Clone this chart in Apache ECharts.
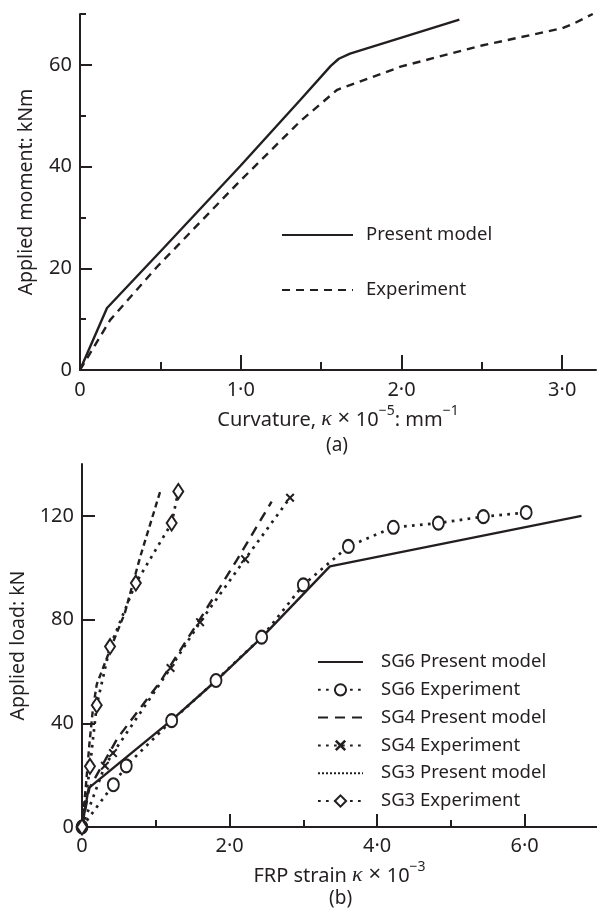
<!DOCTYPE html>
<html><head><meta charset="utf-8">
<script src="https://cdn.jsdelivr.net/npm/echarts@6/dist/echarts.min.js"></script>
<style>html,body{margin:0;padding:0;background:#fff}#c{width:597px;height:913px}</style>
</head><body><div id="c"></div>
<script>
// ---- tick values ----
const topXTicks = [0, 1, 2, 3];
const topXMinor = [0.5, 1.5, 2.5];
const topYTicks = [0, 20, 40, 60];
const topYMinor = [10, 30, 50, 70];
const botXTicks = [0, 2, 4, 6];
const botXMinor = [1, 3, 5];
const botYTicks = [0, 40, 80, 120];

// ---- (a) moment–curvature ----
const momentModel = [[0,0],[0.168,12.2],[0.5,23.3],[1.0,40.2],[1.37,53.1],[1.56,59.8],[1.61,61.2],[1.68,62.2],[2.36,68.9]];
const momentExp = [[0,0],[0.187,9.8],[0.48,20.3],[0.99,37.0],[1.37,48.9],[1.6,55.1],[2.0,59.7],[2.5,63.8],[3.0,67.2],[3.07,68.1],[3.19,70.0]];

// ---- (b) load–strain ----
const sg6Model = [[0,0],[0.09,15],[1.215,41.2],[1.82,56.5],[2.44,73.2],[3.36,100.5],[6.77,120]];
const sg6Exp = [[0,0],[0.425,16.3],[0.6,23.6],[1.215,41.0],[1.816,56.5],[2.435,73.2],[3.0,93.4],[3.61,108.2],[4.22,115.6],[4.83,117.2],[5.44,119.7],[6.02,121.3]];
const sg4Model = [[0,0],[0.1,15],[0.48,34.2],[1.06,56],[1.64,82],[2.1,103],[2.57,125.5]];
const sg4Exp = [[0,0],[0.31,23.6],[0.42,28.5],[1.2,61.3],[1.6,79.0],[2.21,103.3],[2.82,127.0]];
const sg3Model = [[0,0],[0.05,15],[0.1,32],[0.15,46],[0.2,55],[0.38,68.4],[0.58,82.5],[0.79,104.3],[1.06,129.4]];
const sg3Exp = [[0,0],[0.108,23.4],[0.2,47.0],[0.38,69.6],[0.73,94.1],[1.215,117.2],[1.305,129.4]];

const INK = '#231f20';
const FONT = 'Noto Sans';
const LW = 2.4;
const fmtX = v => v === 0 ? '0' : v.toFixed(1).replace('.', '\u00b7');
const fmtY = v => String(v);
const XMARK = 'path://M0,1.6L1.6,0L5,3.4L8.4,0L10,1.6L6.6,5L10,8.4L8.4,10L5,6.6L1.6,10L0,8.4L3.4,5Z';

const rich = {
  n: {fontSize: 20, fontFamily: FONT, color: INK, lineHeight: 26, verticalAlign: 'bottom'},
  x: {fontSize: 22, fontFamily: FONT, color: INK, lineHeight: 26, verticalAlign: 'bottom'},
  k: {fontSize: 22, fontFamily: 'Liberation Serif', fontStyle: 'italic', color: INK, lineHeight: 26, verticalAlign: 'bottom'},
  s: {fontSize: 14, fontFamily: FONT, color: INK, verticalAlign: 'top', lineHeight: 15}
};

function majorX(grid, max, ticks, name, gap, labMargin, tickLen) {
  return {type:'value', gridIndex:grid, position:'bottom', min:0, max:max,
    axisLine:{show:true, lineStyle:{color:INK, width:2}},
    axisTick:{show:true, inside:true, length:tickLen, customValues:ticks, lineStyle:{color:INK, width:2}},
    axisLabel:{show:true, customValues:ticks, formatter:fmtX, margin:labMargin, color:INK, fontSize:20, fontFamily:FONT},
    splitLine:{show:false},
    name:name, nameLocation:'middle', nameGap:gap, nameTextStyle:{rich:rich}};
}
function minorX(grid, max, ticks, len) {
  return {type:'value', gridIndex:grid, position:'bottom', min:0, max:max,
    axisLine:{show:false}, axisLabel:{show:false}, splitLine:{show:false},
    axisTick:{show:true, inside:true, length:len, customValues:ticks, lineStyle:{color:INK, width:2}}};
}
function majorY(grid, max, ticks, name, gap, tickLen) {
  return {type:'value', gridIndex:grid, position:'left', min:0, max:max,
    axisLine:{show:true, lineStyle:{color:INK, width:2}},
    axisTick:{show:true, inside:true, length:tickLen, customValues:ticks, lineStyle:{color:INK, width:2}},
    axisLabel:{show:true, customValues:ticks, formatter:fmtY, margin:8, color:INK, fontSize:20, fontFamily:FONT},
    splitLine:{show:false},
    name:name, nameLocation:'middle', nameGap:gap, nameTextStyle:{color:INK, fontSize:19.5, fontFamily:FONT}};
}
function minorY(grid, max, ticks, len) {
  return {type:'value', gridIndex:grid, position:'left', min:0, max:max,
    axisLine:{show:false}, axisLabel:{show:false}, splitLine:{show:false},
    axisTick:{show:true, inside:true, length:len, customValues:ticks, lineStyle:{color:INK, width:2}}};
}

function lineSeries(name, data, xi, yi, dash, extra) {
  return Object.assign({
    name:name, type:'line', data:data, xAxisIndex:xi, yAxisIndex:yi,
    symbol:'none', silent:true, animation:false,
    lineStyle:{color:INK, width:LW, type:dash},
    itemStyle:{color:INK}
  }, extra || {});
}
const marker = (sym, size) => ({symbol:sym, symbolSize:size, showSymbol:true,
  itemStyle:{color:INK, borderWidth:2.4}});
const DOT = [2.7, 5.3];
const dotted = (name, data, extra) => {
  const s = lineSeries(name, data, 2, 2, DOT, extra);
  s.lineStyle.width = 2.7;
  return s;
};
const noSym = {itemStyle:{opacity:0}};

const chart = echarts.init(document.getElementById('c'), null, {renderer:'canvas'});
chart.setOption({
  backgroundColor:'#fff',
  animation:false,
  grid:[
    {left:80, top:14, width:516, height:356},
    {left:82, top:464, width:515, height:363}
  ],
  xAxis:[
    majorX(0, 3.21, topXTicks, '{n|Curvature, }{k|κ}{x| × }{n|10}{s|−5}{n|: mm}{s|−1}', 34, 10, 15),
    minorX(0, 3.21, topXMinor, 8),
    majorX(1, 6.98, botXTicks, '{n|FRP strain }{k|κ}{x| × }{n|10}{s|−3}', 33, 9, 13),
    minorX(1, 6.98, botXMinor, 7)
  ],
  yAxis:[
    majorY(0, 70, topYTicks, 'Applied moment: kNm', 44, 12),
    minorY(0, 70, topYMinor, 6),
    majorY(1, 140, botYTicks, 'Applied load: kN', 46, 13)
  ],
  legend:[
    {orient:'vertical', left:276, top:219, itemWidth:71, itemHeight:14, itemGap:33,
     data:[Object.assign({name:'Present model'}, noSym), Object.assign({name:'Experiment'}, noSym)],
     textStyle:{color:INK, fontSize:18.5, fontFamily:FONT, lineHeight:22, padding:[0,0,0,8]}},
    {orient:'vertical', left:312, top:646, itemWidth:45, itemHeight:14, itemGap:5.8,
     data:[Object.assign({name:'SG6 Present model'}, noSym),'SG6 Experiment',
           Object.assign({name:'SG4 Present model'}, noSym),'SG4 Experiment',
           {name:'SG3 Present model', lineStyle:{type:[2,2]}, itemStyle:{opacity:0}},'SG3 Experiment'],
     textStyle:{color:INK, fontSize:18.5, fontFamily:FONT, lineHeight:22, padding:[0,0,0,13]}}
  ],
  graphic:[
    {type:'text', left:326, top:436, style:{text:'(a)', fill:INK, font:'19px "Noto Sans"'}},
    {type:'text', left:329, top:889, style:{text:'(b)', fill:INK, font:'19px "Noto Sans"'}}
  ],
  series:[
    lineSeries('Present model', momentModel, 0, 0, 'solid'),
    lineSeries('Experiment', momentExp, 0, 0, [8,6]),
    lineSeries('SG6 Present model', sg6Model, 2, 2, 'solid'),
    dotted('SG6 Experiment', sg6Exp, marker('emptyCircle', [11,13])),
    lineSeries('SG4 Present model', sg4Model, 2, 2, [10,7]),
    dotted('SG4 Experiment', sg4Exp, {symbol:XMARK, symbolSize:9, showSymbol:true, itemStyle:{color:INK}}),
    lineSeries('SG3 Present model', sg3Model, 2, 2, [6,4]),
    dotted('SG3 Experiment', sg3Exp, marker('emptyDiamond', [10,15]))
  ]
});
</script>
</body></html>
